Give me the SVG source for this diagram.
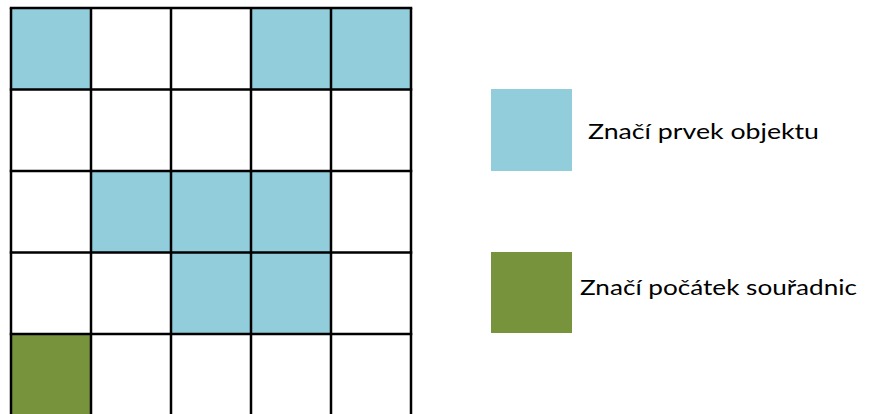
<svg xmlns="http://www.w3.org/2000/svg" width="872" height="414" viewBox="0 0 872 414">
<style>
.b{fill:#92CDDC}
.g{fill:#77933C}
.ln{stroke:#000;stroke-width:2.5;fill:none}
.t{font-family:Lato,"Open Sans",sans-serif;font-size:22px;fill:#000}
</style>
<rect width="872" height="414" fill="#fff"/>
<g id="cells">
<rect class="b" x="11" y="8" width="80" height="81.5"/>
<rect class="b" x="251" y="8" width="80" height="81.5"/>
<rect class="b" x="331" y="8" width="80" height="81.5"/>
<rect class="b" x="91" y="171" width="80" height="81.5"/>
<rect class="b" x="171" y="171" width="80" height="81.5"/>
<rect class="b" x="251" y="171" width="80" height="81.5"/>
<rect class="b" x="171" y="252.5" width="80" height="81.5"/>
<rect class="b" x="251" y="252.5" width="80" height="81.5"/>
<rect class="g" x="11" y="334" width="80" height="81.5"/>
</g>
<g id="grid" class="ln">
<path d="M11 8V416M91 8V416M171 8V416M251 8V416M331 8V416M411 8V416"/>
<path d="M9.75 8H412.25M9.75 89.5H412.25M9.75 171H412.25M9.75 252.5H412.25M9.75 334H412.25"/>
</g>
<g id="legend-object">
<rect class="b" x="491" y="89" width="81" height="82"/>
<text class="t" x="588" y="139" textLength="231" lengthAdjust="spacingAndGlyphs">Značí prvek objektu</text>
</g>
<g id="legend-origin">
<rect class="g" x="491" y="252" width="81" height="81"/>
<text class="t" x="580" y="295" textLength="277" lengthAdjust="spacingAndGlyphs">Značí počátek souřadnic</text>
</g>
</svg>
